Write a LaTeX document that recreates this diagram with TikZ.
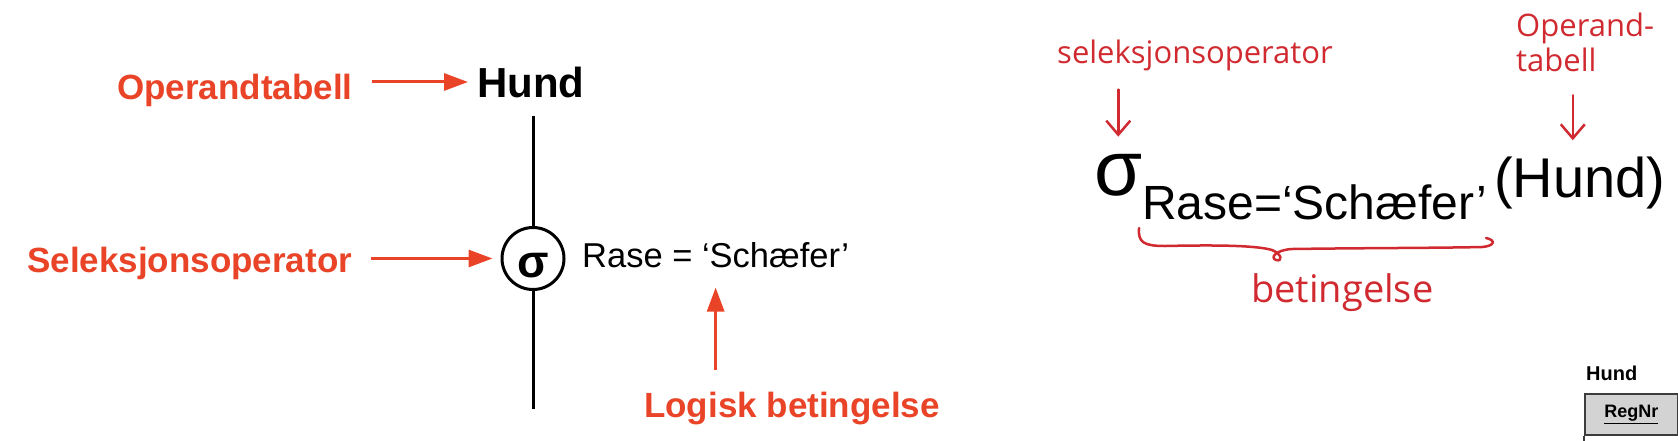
\documentclass[tikz,border=0pt]{standalone}
\usepackage{fontspec}
\setmainfont{Liberation Sans}
\newfontfamily\handfont{Open Sans}
\usetikzlibrary{arrows.meta}

\definecolor{labelred}{RGB}{233,67,40}
\definecolor{handred}{RGB}{208,42,48}
\definecolor{cellgray}{RGB}{211,211,211}
\definecolor{cellline}{RGB}{60,60,60}
\newcommand{\fsz}[2]{\fontsize{#1}{#2}\selectfont}

\tikzset{
    redlabel/.style={text=labelred, font=\bfseries\fsz{35}{42}, inner sep=0pt, anchor=base west},
    plaintext/.style={inner sep=0pt, anchor=base west},
    redarrow/.style={draw=labelred, line width=3pt, -{Triangle[length=24pt, width=17pt]}},
    treeline/.style={line width=3pt},
    handtext/.style={text=handred, font=\handfont\fsz{31}{35}, inner sep=0pt},
    handarrow/.style={draw=handred, line width=2.5pt, line cap=round, line join=round, -{Straight Barb[length=14pt, width=24pt]}}
}

\begin{document}
\begin{tikzpicture}[x=1pt, y=-1pt]
    \useasboundingbox (0,0) rectangle (1678,440);

    \node[redlabel] (optab) at (117,99) {Operandtabell};
    \node[plaintext, font=\bfseries\fsz{42}{48}] (hund) at (477,97) {Hund};
    \node[circle, draw, line width=3pt, minimum size=62pt, inner sep=0pt, font=\bfseries\fsz{46}{50}, text height=37pt, text depth=0pt] (sel) at (533,258.5) {σ};
    \coordinate (selend) at (533,409);
    \node[redlabel] (selop) at (27,272) {Seleksjonsoperator};
    \node[plaintext, font=\fsz{34.5}{40}] (cond) at (582,267) {Rase = ‘Schæfer’};
    \node[redlabel] (logisk) at (644,417) {Logisk betingelse};

    \draw[redarrow, shorten <=19pt, shorten >=9pt] (optab.east |- hund.west) -- (hund.west);
    \draw[treeline, shorten <=18pt] (sel.north |- hund.south) -- (sel.north);
    \draw[treeline] (sel.south) -- (selend);
    \draw[redarrow, shorten <=19pt, shorten >=8pt] (selop.east |- sel.west) -- (sel.west);
    \draw[redarrow, shorten <=21pt, shorten >=20pt] (cond.south |- logisk.north) -- (cond.south);

    \node[plaintext, font=\fsz{78}{80}] (sigma) at (1094,195) {σ};
    \node[plaintext, font=\fsz{48}{52}] (sub) at (1142,219) {Rase=‘Schæfer’};
    \node[plaintext, font=\fsz{56}{60}] (relname) at (1494,197) {(Hund)};

    \node[handtext, anchor=base west] (handsel) at (1057,63) {seleksjonsoperator};
    \node[handtext, anchor=north west, align=left] (handop) at (1516,13) {Operand-\\tabell};
    \node[handtext, anchor=base west, font=\handfont\fsz{38}{40}] (handcond) at (1251,302) {betingelse};

    \draw[handarrow, shorten <=19pt, shorten >=17pt] (sigma.north |- handsel.south) -- (sigma.north);
    \draw[handarrow, shorten <=23pt, shorten >=16pt] ([xshift=-7pt]relname.north |- handop.south) -- ([xshift=-7pt]relname.north);
    \draw[handred, line width=2.5pt, line cap=round, line join=round]
        (1139,228) .. controls (1138,242) and (1143,246) .. (1165,246)
        .. controls (1210,245) and (1255,245) .. (1272,250)
        .. controls (1282,254) and (1283,262) .. (1276,260)
        .. controls (1270,258) and (1275,250) .. (1292,249)
        .. controls (1360,248) and (1440,248) .. (1482,247)
        .. controls (1495,246) and (1496,240) .. (1486,238);

    \node[plaintext, font=\bfseries\fsz{20}{24}] (tabname) at (1586,380) {Hund};
    \node[draw=cellline, fill=cellgray, line width=1.5pt, minimum width=93pt, minimum height=41pt, anchor=north west, inner sep=0pt, font=\bfseries\fsz{18}{20}] (regnr) at (1584,393) {\underline{RegNr}};
    \draw[cellline, line width=1.5pt] (regnr.south west) -- ++(0,12);
    \draw[cellline, line width=1.5pt] (regnr.south east) -- ++(0,12);
\end{tikzpicture}
\end{document}
